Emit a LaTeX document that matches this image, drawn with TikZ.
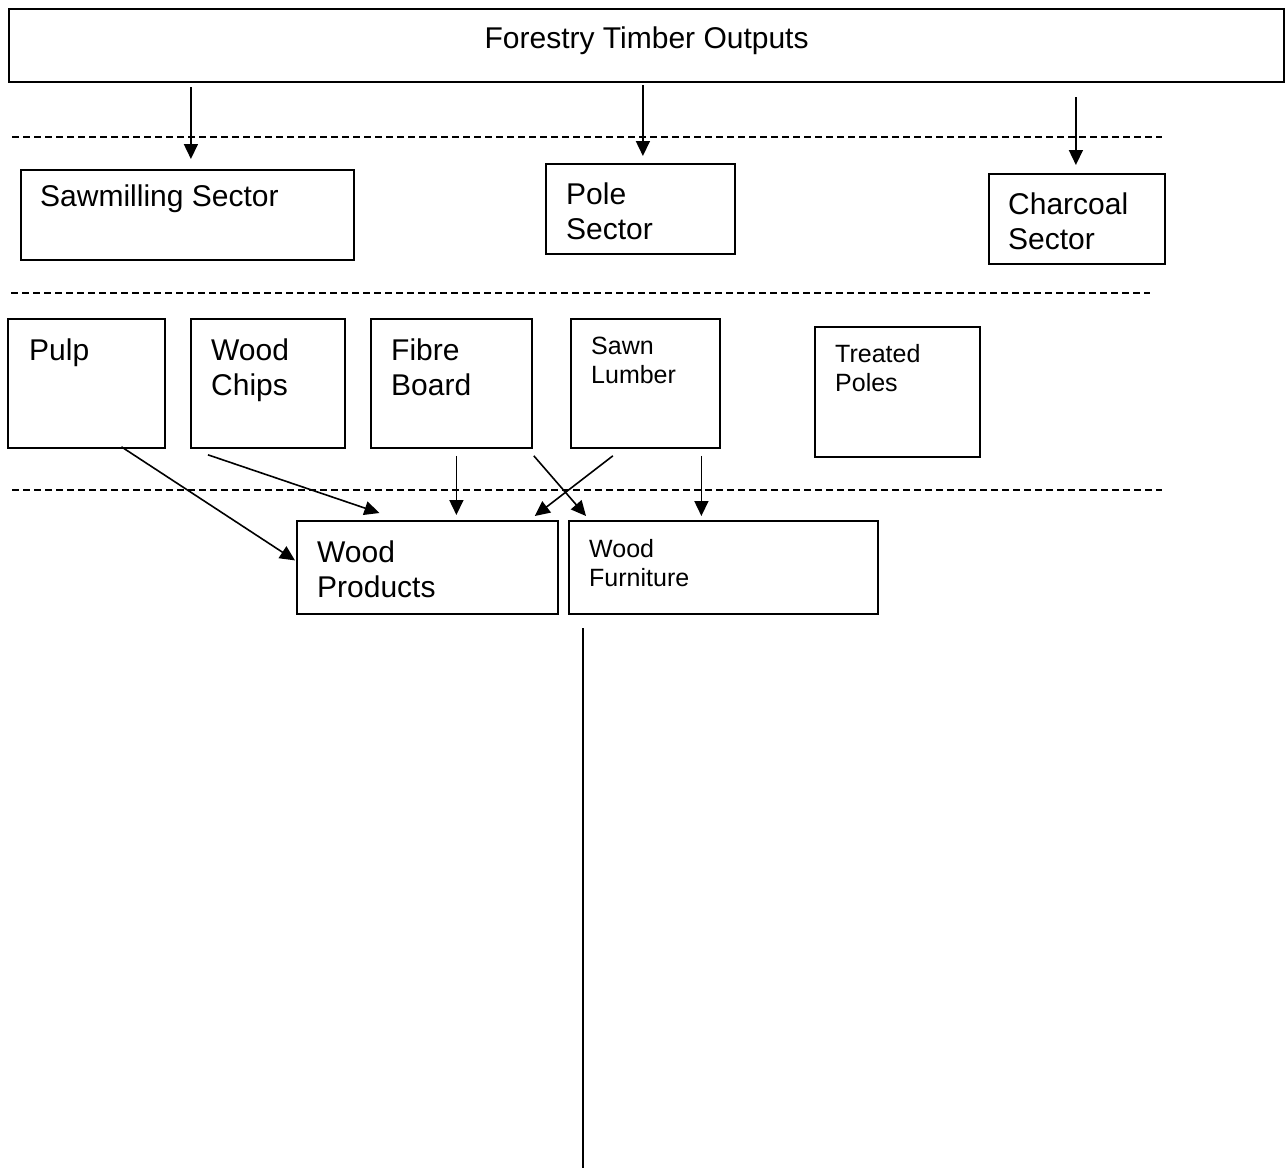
\documentclass[tikz,border=0pt]{standalone}
\usepackage{fontspec}
\setmainfont{Liberation Sans}
\usetikzlibrary{arrows.meta,calc}

\begin{document}
\begin{tikzpicture}[x=1pt,y=-1pt,
  box/.style={draw,line width=1.8pt,inner sep=0pt,anchor=north west},
  big/.style={font=\fontsize{30}{35}\selectfont,align=left,inner sep=0pt,anchor=north west},
  small/.style={font=\fontsize{25}{29}\selectfont,align=left,inner sep=0pt,anchor=north west},
  arr/.style={line width=1.6pt,-{Triangle[length=15pt,width=14pt]}},
  sep/.style={line width=1.5pt,dash pattern=on 7pt off 4pt}]
\useasboundingbox (0,0) rectangle (1285,1171);

\node[box,line width=2.2pt,minimum width=1275pt,minimum height=73pt] (top) at (8,8) {};
\node[big,anchor=north] (toptxt) at ($(top.north)+(0,19)$) {Forestry Timber Outputs};

\node[box,minimum width=333pt,minimum height=90pt] (saw) at (20,169) {};
\node[big] (sawtxt) at ($(saw.north west)+(20,16)$) {Sawmilling Sector};
\node[box,minimum width=189pt,minimum height=90pt] (pole) at (545,163) {};
\node[big] (poletxt) at ($(pole.north west)+(21,20)$) {Pole\\Sector};
\node[box,minimum width=176pt,minimum height=90pt] (charc) at (988,173) {};
\node[big] (charctxt) at ($(charc.north west)+(20,20)$) {Charcoal\\Sector};

\node[box,minimum width=157pt,minimum height=129pt] (pulp) at (7,318) {};
\node[big] (pulptxt) at ($(pulp.north west)+(22,21)$) {Pulp};
\node[box,minimum width=154pt,minimum height=129pt] (chips) at (190,318) {};
\node[big] (chipstxt) at ($(chips.north west)+(21,21)$) {Wood\\Chips};
\node[box,minimum width=161pt,minimum height=129pt] (fibre) at (370,318) {};
\node[big] (fibretxt) at ($(fibre.north west)+(21,21)$) {Fibre\\Board};
\node[box,minimum width=149pt,minimum height=129pt] (sawn) at (570,318) {};
\node[small] (sawntxt) at ($(sawn.north west)+(21,19)$) {Sawn\\Lumber};
\node[box,minimum width=165pt,minimum height=130pt] (treat) at (814,326) {};
\node[small] (treattxt) at ($(treat.north west)+(21,18)$) {Treated\\Poles};

\node[box,minimum width=261pt,minimum height=93pt] (wp) at (296,520) {};
\node[big] (wptxt) at ($(wp.north west)+(21,21)$) {Wood\\Products};
\node[box,minimum width=309pt,minimum height=93pt] (wf) at (568,520) {};
\node[small] (wftxt) at ($(wf.north west)+(21,19)$) {Wood\\Furniture};

\draw[sep] (12,137) -- (1162,137);
\draw[sep] (11,293) -- (1150,293);
\draw[sep] (12,490) -- (1162,490);

\draw[arr] ($(top.south -| saw.north)+(3.5,4)$) -- ($(saw.north)+(3.5,-10)$);
\draw[arr] ($(top.south -| pole.north)+(2.5,2)$) -- ($(pole.north)+(2.5,-7)$);
\draw[arr] ($(top.south -| charc.north)+(-1,14)$) -- ($(charc.north)+(-1,-8)$);

\draw[arr] ($(pulp.south)+(35,-2)$) -- ($(wp.west)+(-1,-7)$);
\draw[arr] ($(chips.south)+(-60,6)$) -- ($(wp.north)+(-48,-7)$);
\draw[arr] ($(fibre.south)+(5,7)$) -- ($(fibre.south |- wp.north)+(5,-5)$);
\draw[arr] ($(sawn.south)+(-32.5,7)$) -- ($(wp.north east)+(-24,-4)$);
\draw[arr] ($(fibre.south east)+(1,7)$) -- ($(wf.north west)+(18,-4)$);
\draw[arr] ($(sawn.south)+(56,7)$) -- ($(sawn.south |- wf.north)+(56,-4)$);

\coordinate (vtop) at (583,628);
\coordinate (vbot) at (583,1168);
\draw[line width=1.4pt] (vtop) -- (vbot);
\end{tikzpicture}
\end{document}
